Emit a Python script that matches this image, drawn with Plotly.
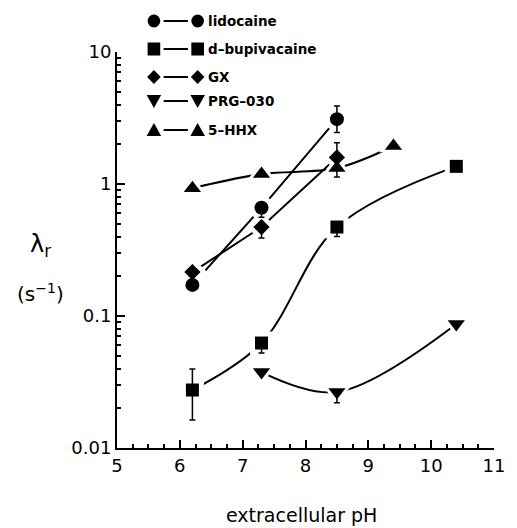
import plotly.graph_objects as go

# ---------------- data ----------------
ph_lido = [6.2, 7.3, 8.5]
lido = [0.172, 0.66, 3.1]
lido_hi = [None, None, 3.9]
lido_lo = [None, 0.56, 2.46]

ph_bupi = [6.2, 7.3, 8.5, 10.4]
bupi = [0.0275, 0.0624, 0.472, 1.36]
bupi_hi = [0.0397, None, None, None]
bupi_lo = [0.0163, 0.0524, 0.40, None]

ph_gx = [6.2, 7.3, 8.5]
gx = [0.215, 0.472, 1.59]
gx_hi = [None, None, 2.05]
gx_lo = [None, 0.39, None]

ph_prg = [7.3, 8.5, 10.4]
prg = [0.0376, 0.0266, 0.087]
prg_hi = [None, None, None]
prg_lo = [None, 0.022, None]

ph_hhx = [6.2, 7.3, 8.5, 9.4]
hhx = [0.93, 1.19, 1.32, 1.94]
hhx_hi = [None, None, None, None]
hhx_lo = [None, None, 1.13, None]

names = ["lidocaine", "d\u2013bupivacaine", "GX", "PRG\u2013030", "5\u2013HHX"]
xticks = [5, 6, 7, 8, 9, 10, 11]
yticks = [0.01, 0.1, 1, 10]
yticktext = ["0.01", "0.1", "1", "10"]
xminor = [5 + 0.25 * i for i in range(25) if i % 4]
yminor = [m * d for d in (0.01, 0.1, 1) for m in range(2, 10)]

# ---------------- layout constants ----------------
W, H = 517, 528
ML, MR, MT, MB = 117, 12, 52, 80
PW, PH = W - ML - MR, H - MT - MB
FONT = "DejaVu Sans"
HALO = 10

def px2paper(px, py):
    return (px - ML) / PW, (H - MB - py) / PH

series = [
    (ph_lido, lido, lido_hi, lido_lo, "circle", 14, "linear"),
    (ph_bupi, bupi, bupi_hi, bupi_lo, "square", 13, "spline"),
    (ph_gx, gx, gx_hi, gx_lo, "diamond", 12.5, "linear"),
    (ph_prg, prg, prg_hi, prg_lo, "triangle-down", 15, "spline"),
    (ph_hhx, hhx, hhx_hi, hhx_lo, "triangle-up", 15, "spline"),
]

fig = go.Figure()

# layer 1: lines
for xs, ys, hi, lo, sym, sz, shape in series:
    fig.add_trace(go.Scatter(
        x=xs, y=ys, mode="lines",
        line=dict(color="black", width=2, shape=shape, smoothing=1.0),
        showlegend=False, cliponaxis=False))

# layer 2: white halos (gaps where lines meet markers)
for xs, ys, hi, lo, sym, sz, shape in series:
    fig.add_trace(go.Scatter(
        x=xs, y=ys, mode="markers",
        marker=dict(symbol=sym, size=sz + HALO, color="white"),
        showlegend=False, hoverinfo="skip", cliponaxis=False))

# layer 3: markers with error bars
for xs, ys, hi, lo, sym, sz, shape in series:
    plus = [(h - y) if h is not None else 0 for h, y in zip(hi, ys)]
    minus = [(y - l) if l is not None else 0 for l, y in zip(lo, ys)]
    fig.add_trace(go.Scatter(
        x=xs, y=ys, mode="markers",
        marker=dict(symbol=sym, size=sz, color="black", line=dict(width=0)),
        error_y=dict(type="data", symmetric=False, array=plus, arrayminus=minus,
                     color="black", thickness=1.5, width=3),
        showlegend=False, cliponaxis=False))

# ---------------- custom legend (shapes in the top margin) ----------------
leg_x0, leg_x1, leg_tx = 155, 200, 209
leg_y = [21, 49, 77, 101, 130]
leg_sym = ["circle", "square", "diamond", "tri-down", "tri-up"]

def sym_shape(kind, cx, cy):
    if kind == "circle":
        r = 6.5
        a, b = px2paper(cx - r, cy + r)
        c, d = px2paper(cx + r, cy - r)
        return dict(type="circle", xref="paper", yref="paper", x0=a, y0=b, x1=c, y1=d,
                    fillcolor="black", line=dict(width=0))
    if kind == "square":
        r = 6.5
        a, b = px2paper(cx - r, cy + r)
        c, d = px2paper(cx + r, cy - r)
        return dict(type="rect", xref="paper", yref="paper", x0=a, y0=b, x1=c, y1=d,
                    fillcolor="black", line=dict(width=0))
    if kind == "diamond":
        r = 7
        pts = [(cx - r, cy), (cx, cy - r), (cx + r, cy), (cx, cy + r)]
    elif kind == "tri-down":
        pts = [(cx - 7.5, cy - 6), (cx + 7.5, cy - 6), (cx, cy + 7)]
    else:
        pts = [(cx - 7.5, cy + 6), (cx + 7.5, cy + 6), (cx, cy - 7)]
    pp = [px2paper(x, y) for x, y in pts]
    path = "M " + " L ".join("%f,%f" % p for p in pp) + " Z"
    return dict(type="path", xref="paper", yref="paper", path=path,
                fillcolor="black", line=dict(width=0))

shapes = []
for kind, name, ly in zip(leg_sym, names, leg_y):
    a, b = px2paper(leg_x0 + 10, ly)
    c, d = px2paper(leg_x1 - 10, ly)
    shapes.append(dict(type="line", xref="paper", yref="paper", x0=a, y0=b, x1=c, y1=d,
                       line=dict(color="black", width=2)))
    shapes.append(sym_shape(kind, leg_x0, ly))
    shapes.append(sym_shape(kind, leg_x1, ly))
    tx_, ty_ = px2paper(leg_tx, ly)
    fig.add_annotation(x=tx_, y=ty_, xref="paper", yref="paper", text="<b>%s</b>" % name,
                       showarrow=False, xanchor="left", yanchor="middle",
                       font=dict(family=FONT, size=13.5, color="black"))

fig.update_layout(
    width=W, height=H,
    margin=dict(l=ML, r=MR, t=MT, b=MB),
    paper_bgcolor="white", plot_bgcolor="white",
    font=dict(family=FONT, size=18, color="black"),
    shapes=shapes,
    xaxis=dict(
        range=[5, 11], tickmode="array", tickvals=xticks, showline=True,
        linecolor="black", linewidth=2,
        ticks="inside", ticklen=8, tickwidth=2, tickcolor="#000000",
        minor=dict(ticks="inside", tickmode="array", tickvals=xminor, ticklen=4,
                   tickwidth=1.5, tickcolor="#000000"),
        showgrid=False, zeroline=False, tickfont=dict(size=18),
    ),
    yaxis=dict(
        type="log", range=[-2, 1], tickmode="array", tickvals=yticks, ticktext=yticktext,
        showline=True, linecolor="black", linewidth=2,
        ticks="inside", ticklen=8, tickwidth=2, tickcolor="#000000",
        minor=dict(ticks="inside", tickmode="array", tickvals=yminor, ticklen=4,
                   tickwidth=1.5, tickcolor="#000000"),
        showgrid=False, zeroline=False, tickfont=dict(size=18),
        ticksuffix="  ",
    ),
)

# axis titles
tx, ty = px2paper(307, 515)
fig.add_annotation(x=tx, y=ty, xref="paper", yref="paper", text="extracellular pH",
                   showarrow=False, xanchor="center", yanchor="middle",
                   font=dict(family=FONT, size=19))
lx, ly_ = px2paper(38, 245)
fig.add_annotation(x=lx, y=ly_, xref="paper", yref="paper", text="\u03bb<sub>r</sub>",
                   showarrow=False, xanchor="center", yanchor="middle",
                   font=dict(family=FONT, size=24))
sx, sy = px2paper(38, 293)
fig.add_annotation(x=sx, y=sy, xref="paper", yref="paper", text="(s<sup>\u22121</sup>)",
                   showarrow=False, xanchor="center", yanchor="middle",
                   font=dict(family=FONT, size=20))

fig.write_html("out.html")
